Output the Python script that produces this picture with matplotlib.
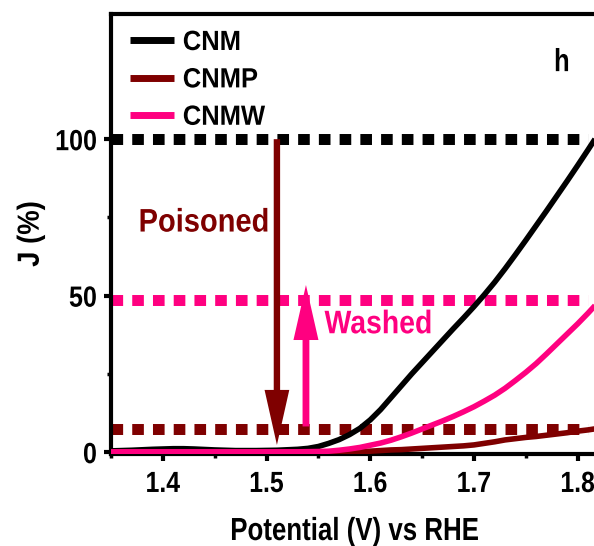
import matplotlib
matplotlib.use("Agg")
import matplotlib.pyplot as plt
from matplotlib.ticker import MultipleLocator, FixedLocator
from matplotlib.patheffects import AbstractPathEffect
from matplotlib.transforms import Affine2D

plt.rcParams['font.family'] = ['Liberation Sans', 'DejaVu Sans']
plt.rcParams['font.weight'] = 'bold'


class Condense(AbstractPathEffect):
    """Horizontally condense glyphs (the reference uses a narrow bold face)."""

    def __init__(self, sx=0.83, align='center'):
        super().__init__()
        self.sx = sx
        self.frac = {'left': 0.0, 'center': 0.5, 'right': 1.0}[align]

    def draw_path(self, renderer, gc, tpath, affine, rgbFace=None):
        ext = tpath.get_extents()
        shift = self.frac * (1 - self.sx) * ext.x1
        new_aff = Affine2D().scale(self.sx, 1).translate(shift, 0) + affine
        renderer.draw_path(gc, tpath, new_aff, rgbFace)


# ---------------- data ----------------
potential = [1.35, 1.37, 1.39, 1.41, 1.42, 1.43, 1.45, 1.47, 1.49, 1.51, 1.53, 1.54,
             1.55, 1.56, 1.57, 1.58, 1.59, 1.60, 1.61, 1.62, 1.63, 1.64, 1.65, 1.66,
             1.67, 1.68, 1.69, 1.70, 1.71, 1.72, 1.73, 1.74, 1.75, 1.76, 1.77, 1.78,
             1.79, 1.80, 1.81, 1.82]
cnm = [0.4, 0.6, 0.9, 1.1, 1.1, 1.0, 0.7, 0.5, 0.5, 0.6, 0.9, 1.2,
       1.8, 2.8, 4.0, 5.6, 7.6, 10.3, 13.6, 17.4, 21.2, 25.0, 28.6, 32.2,
       35.8, 39.4, 42.9, 46.5, 50.3, 54.3, 58.6, 63.1, 67.7, 72.4, 77.1, 81.9,
       86.7, 91.6, 96.6, 101.7]
cnmp = [0.0, 0.0, 0.0, 0.0, 0.0, 0.0, 0.0, 0.0, 0.0, 0.0, 0.0, 0.0,
        0.0, 0.0, 0.05, 0.1, 0.2, 0.3, 0.5, 0.7, 0.8, 1.0, 1.2, 1.4,
        1.6, 1.8, 2.0, 2.3, 2.8, 3.3, 3.9, 4.3, 4.7, 5.0, 5.4, 5.8,
        6.2, 6.7, 7.1, 7.6]
cnmw = [0.1, 0.1, 0.1, 0.1, 0.1, 0.1, 0.1, 0.1, 0.1, 0.1, 0.1, 0.15,
        0.2, 0.3, 0.6, 1.0, 1.5, 2.2, 2.9, 3.8, 4.9, 6.1, 7.4, 8.7,
        10.0, 11.4, 12.9, 14.5, 16.3, 18.2, 20.4, 22.9, 25.5, 28.3, 31.4, 34.6,
        37.8, 41.0, 44.4, 48.0]

series_names = ['CNM', 'CNMP', 'CNMW']
series_colors = ['#000000', '#7f0000', '#ff0080']

ref_levels = [100.0, 48.7, 7.4]          # dotted reference lines (CNM, CNMW, CNMP)
ref_colors = ['#000000', '#ff0080', '#7f0000']
ref_span = [1.35, 1.81]

poison_arrow = (1.510, 100.0, 2.3)     # x, start y, end y
wash_arrow = (1.538, 8.2, 53.4)

x_ticks = [1.4, 1.5, 1.6, 1.7, 1.8, 1.9]
y_ticks = [0, 50, 100]

# ---------------- figure ----------------
fig = plt.figure(figsize=(5.94, 5.46), dpi=100)
W, H = 594, 546
ax = fig.add_axes([111 / W, (H - 454) / H, 0.55 * 1037 / W, 440 / H])
ax.set_xlim(1.35, 1.90)
ax.set_ylim(-0.6, 140)

# dotted reference lines
for lvl, c in zip(ref_levels, ref_colors):
    ax.plot(ref_span, [lvl, lvl], color=c, lw=7.9, dashes=(1.06, 0.83),
            dash_capstyle='butt', solid_capstyle='butt', zorder=2)

# curves
for ys, name, c in zip([cnm, cnmp, cnmw], series_names, series_colors):
    ax.plot(potential, ys, color=c, lw=4, label=name, zorder=3,
            solid_capstyle='butt')

# arrows
ax.annotate('', xy=(poison_arrow[0], poison_arrow[2]),
            xytext=(poison_arrow[0], poison_arrow[1]),
            arrowprops=dict(arrowstyle='simple,head_length=39.6,head_width=17.8,tail_width=4.6',
                            mutation_scale=1, color='#7f0000', lw=0,
                            shrinkA=0, shrinkB=0), zorder=4)
ax.annotate('', xy=(wash_arrow[0], wash_arrow[2]),
            xytext=(wash_arrow[0], wash_arrow[1]),
            arrowprops=dict(arrowstyle='simple,head_length=39.6,head_width=18,tail_width=4.9',
                            mutation_scale=1, color='#ff0080', lw=0,
                            shrinkA=0, shrinkB=0), zorder=4)

t1 = ax.text(1.4397, 73.2, 'Poisoned', color='#7f0000', fontsize=23.5, fontweight='bold',
             ha='center', va='center')
t1.set_path_effects([Condense(0.89, 'center')])
t2 = ax.text(1.608, 40.7, 'Washed', color='#ff0080', fontsize=23.5, fontweight='bold',
             ha='center', va='center')
t2.set_path_effects([Condense(0.87, 'center')])
t3 = ax.text(1.785, 124.3, 'h', color='#000000', fontsize=23, fontweight='bold',
             ha='center', va='center')
t3.set_path_effects([Condense(0.8, 'center')])

# axes styling
for s in ax.spines.values():
    s.set_linewidth(3)
ax.xaxis.set_major_locator(FixedLocator(x_ticks))
ax.xaxis.set_minor_locator(MultipleLocator(0.05))
ax.yaxis.set_major_locator(FixedLocator(y_ticks))
ax.yaxis.set_minor_locator(FixedLocator([25, 75]))
ax.set_xticklabels([f'{v:.1f}' for v in x_ticks])
ax.set_yticklabels([str(v) for v in y_ticks])
ax.tick_params(which='major', direction='out', length=5, width=3, labelsize=21)
ax.tick_params(which='minor', direction='out', length=3, width=2.5)
ax.tick_params(axis='x', which='major', pad=6.5)
ax.tick_params(axis='y', which='major', pad=5)
ax.tick_params(top=False, right=False, which='both')
for lbl in ax.get_xticklabels():
    lbl.set_path_effects([Condense(0.85, 'center')])
for lbl in ax.get_yticklabels():
    lbl.set_path_effects([Condense(0.86, 'right')])

xl = ax.set_xlabel('Potential (V) vs RHE', fontsize=23, fontweight='bold')
xl.set_path_effects([Condense(0.81, 'center')])
xl.set_va('baseline')
ax.xaxis.set_label_coords((355 - 111) / (0.55 * 1037), -(540 - 454) / 440)
yl = ax.set_ylabel('J (%)', fontsize=22, fontweight='bold', labelpad=2)
yl.set_path_effects([Condense(0.9, 'center')])

leg = ax.legend(loc='upper left', bbox_to_anchor=(130 / W, 1 - 30 / H),
                bbox_transform=fig.transFigure, frameon=False, fontsize=20,
                handlelength=1.6, handletextpad=0.3, labelspacing=0.41,
                borderpad=0, borderaxespad=0)
for h in leg.get_lines():
    h.set_linewidth(5)
for t in leg.get_texts():
    t.set_path_effects([Condense(0.92, 'left')])

fig.savefig('out.png', dpi=100)
